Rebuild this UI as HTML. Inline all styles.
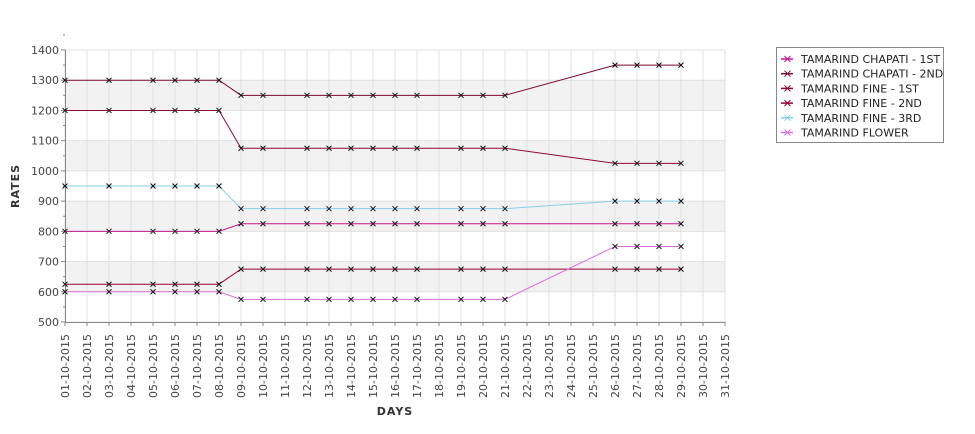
<!DOCTYPE html>
<html><head><meta charset="utf-8"><style>
body{margin:0;background:#fff;}
svg text{font-family:"DejaVu Sans","Liberation Sans",sans-serif;}
</style></head><body>
<svg id="chart" width="975" height="429" xmlns="http://www.w3.org/2000/svg">
<g id="plot"></g>
<g id="axes"></g>
<g id="series"></g>
<text x="19" y="186" transform="rotate(-90 19 186)" text-anchor="middle" font-size="11" font-weight="bold" fill="#333" letter-spacing="1">RATES</text>
<text x="395" y="415" text-anchor="middle" font-size="11" font-weight="bold" fill="#333" letter-spacing="1">DAYS</text>
<g>
<rect x="776.5" y="47.5" width="167" height="95" fill="#fff" stroke="#888"/>
<g id="legend"></g>
</g>
</svg>
<script>
const days = [];
for (let d = 1; d <= 31; d++) days.push((d<10?'0':'')+d+'-10-2015');
const pointDays = [1,3,5,6,7,8,9,10,12,13,14,15,16,17,19,20,21,26,27,28,29];
const seriesNames = ["TAMARIND CHAPATI - 1ST","TAMARIND CHAPATI - 2ND","TAMARIND FINE - 1ST","TAMARIND FINE - 2ND","TAMARIND FINE - 3RD","TAMARIND FLOWER"];
const seriesColors = ["#c0188f","#7a0a2e","#8b0a3a","#990033","#87cfe6","#d76fd8"];
const chapati1 = [800,800,800,800,800,800,825,825,825,825,825,825,825,825,825,825,825,825,825,825,825];
const chapati2 = [1300,1300,1300,1300,1300,1300,1250,1250,1250,1250,1250,1250,1250,1250,1250,1250,1250,1350,1350,1350,1350];
const fine1 = [1200,1200,1200,1200,1200,1200,1075,1075,1075,1075,1075,1075,1075,1075,1075,1075,1075,1025,1025,1025,1025];
const fine2 = [625,625,625,625,625,625,675,675,675,675,675,675,675,675,675,675,675,675,675,675,675];
const fine3 = [950,950,950,950,950,950,875,875,875,875,875,875,875,875,875,875,875,900,900,900,900];
const flower = [600,600,600,600,600,600,575,575,575,575,575,575,575,575,575,575,575,750,750,750,750];
const allSeries = [chapati1,chapati2,fine1,fine2,fine3,flower];
const yTicks = [500,600,700,800,900,1000,1100,1200,1300,1400];

const X0=65, X1=725, Y0=322, Y1=50;
const x = d => X0 + (d-1)*(X1-X0)/30;
const y = v => Y0 - (v-500)*(Y0-Y1)/900;
const NS='http://www.w3.org/2000/svg';
function mk(tag, attrs, parent){const e=document.createElementNS(NS,tag);for(const k in attrs)e.setAttribute(k,attrs[k]);parent.appendChild(e);return e;}
const plot=document.getElementById('plot'), axes=document.getElementById('axes'), ser=document.getElementById('series'), leg=document.getElementById('legend');

for(let i=0;i<yTicks.length-1;i++){
  if(i%2===1){const r=mk('rect',{x:X0,y:y(yTicks[i+1]),width:X1-X0,height:y(yTicks[i])-y(yTicks[i+1]),fill:'#f2f2f2'},plot);
  
  }
}
days.forEach((d,i)=>{const l=mk('line',{x1:x(i+1),x2:x(i+1),y1:Y1,y2:Y0,stroke:'#e0e0e0'},plot);

});
yTicks.forEach(v=>{const l=mk('line',{x1:X0,x2:X1,y1:y(v),y2:y(v),stroke:'#e0e0e0'},plot);

});

mk('line',{x1:X0+0.5,x2:X0+0.5,y1:Y1,y2:Y0,stroke:'#888'},axes);
mk('line',{x1:X0,x2:X1,y1:Y0+0.5,y2:Y0+0.5,stroke:'#888'},axes);
yTicks.forEach(v=>{
  mk('line',{x1:X0-4,x2:X0,y1:y(v),y2:y(v),stroke:'#888'},axes);
  mk('line',{x1:X0-2,x2:X0,y1:y(v+50),y2:y(v+50),stroke:'#888'},axes);
  const t=mk('text',{x:X0-6,y:y(v)+4,'text-anchor':'end','font-size':11,fill:'#444'},axes);
  
  
  t.textContent=v;
});
days.forEach((d,i)=>{
  const xx=x(i+1);
  mk('line',{x1:xx,x2:xx,y1:Y0,y2:Y0+4,stroke:'#888'},axes);
  const t=mk('text',{x:xx+4,y:334,'text-anchor':'end','font-size':11,fill:'#444',transform:`rotate(-90 ${xx+4} 334)`},axes);
  
  
  t.textContent=d;
});

allSeries.forEach((vals,si)=>{
  const g=mk('g',{},ser);
  
  
  const pts=vals.map((v,i)=>x(pointDays[i])+','+y(v)).join(' ');
  const pl=mk('polyline',{points:pts,fill:'none',stroke:seriesColors[si],'stroke-width':1},g);
  
  
  vals.forEach((v,i)=>{
    const px=x(pointDays[i]),py=y(v);
    const p=mk('path',{d:`M${px-2.5},${py-2.5}L${px+2.5},${py+2.5}M${px-2.5},${py+2.5}L${px+2.5},${py-2.5}`,stroke:'#111','stroke-width':1},g);
    
    
  });
});

seriesNames.forEach((n,i)=>{
  const yy=59+i*14.7;
  const g=mk('g',{},leg);
  
  
  mk('line',{x1:781,x2:793,y1:yy,y2:yy,stroke:seriesColors[i],'stroke-width':1.5},g);
  mk('path',{d:`M784.5,${yy-3}L790.5,${yy+3}M784.5,${yy+3}L790.5,${yy-3}`,stroke:seriesColors[i],'stroke-width':1},g);
  const t=mk('text',{x:801,y:yy+4,'font-size':11,fill:'#222'},g);
  t.textContent=n;
});
</script>
</body></html>
